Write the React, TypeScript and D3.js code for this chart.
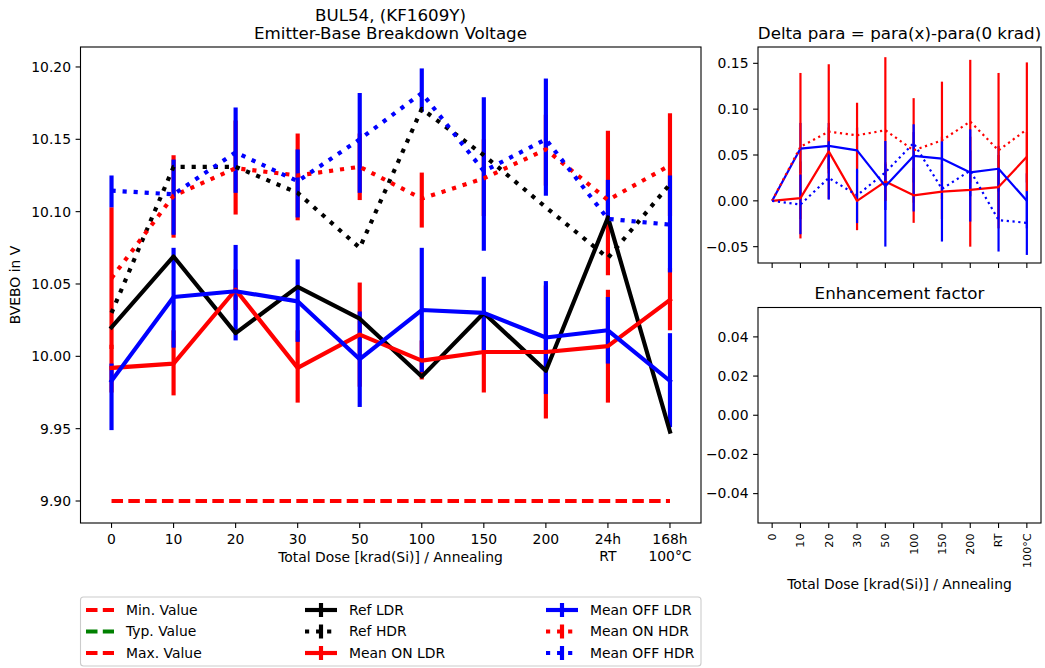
import React from 'react';
import * as d3 from 'd3';

// ---------- data ----------
const doseLabels = ['0', '10', '20', '30', '50', '100', '150', '200', '24h\nRT', '168h\n100°C'];
const doseShort = ['0', '10', '20', '30', '50', '100', '150', '200', 'RT', '100°C'];

const mainYTicks = [9.9, 9.95, 10.0, 10.05, 10.1, 10.15, 10.2];
const deltaYTicks = [-0.05, 0, 0.05, 0.1, 0.15];
const enhYTicks = [-0.04, -0.02, 0, 0.02, 0.04];

const minValue = [9.9, 9.9, 9.9, 9.9, 9.9, 9.9, 9.9, 9.9, 9.9, 9.9];

const refLdr = [10.02, 10.069, 10.016, 10.048, 10.026, 9.986, 10.03, 9.99, 10.096, 9.948];
const refHdr = [10.03, 10.131, 10.131, 10.113, 10.075, 10.171, 10.139, 10.103, 10.068, 10.119];

const onLdr = [9.992, 9.995, 10.046, 9.992, 10.015, 9.997, 10.003, 10.003, 10.007, 10.039];
const onLdrLo = [9.975, 9.973, 10.032, 9.968, 9.979, 9.984, 9.975, 9.957, 9.968, 10.018];
const onLdrHi = [10.008, 10.018, 10.06, 10.018, 10.051, 10.011, 10.031, 10.049, 10.046, 10.061];

const offLdr = [9.983, 10.041, 10.045, 10.038, 9.998, 10.032, 10.03, 10.013, 10.018, 9.983];
const offLdrLo = [9.949, 10.006, 10.011, 10.01, 9.965, 9.989, 10.004, 9.974, 9.995, 9.951];
const offLdrHi = [9.995, 10.075, 10.077, 10.067, 10.031, 10.075, 10.055, 10.052, 10.041, 10.016];

const onHdr = [10.054, 10.111, 10.13, 10.125, 10.131, 10.109, 10.123, 10.143, 10.108, 10.132];
const onHdrLo = [10.005, 10.082, 10.098, 10.094, 10.108, 10.089, 10.097, 10.118, 10.056, 10.097];
const onHdrHi = [10.103, 10.139, 10.163, 10.154, 10.154, 10.127, 10.15, 10.167, 10.156, 10.168];

const offHdr = [10.1145, 10.112, 10.141, 10.121, 10.15, 10.182, 10.128, 10.15, 10.095, 10.091];
const offHdrLo = [10.103, 10.084, 10.113, 10.096, 10.113, 10.169, 10.073, 10.111, 10.094, 10.058];
const offHdrHi = [10.125, 10.136, 10.172, 10.143, 10.182, 10.199, 10.179, 10.192, 10.122, 10.125];

// delta = para(x) - para(0 krad)
const dOnLdr = [0, 0.003, 0.054, 0.0, 0.021, 0.006, 0.01, 0.012, 0.015, 0.048];
const dOnLdrLo = [0, -0.041, 0.03, -0.032, 0.0, -0.024, -0.02, -0.05, -0.02, 0.02];
const dOnLdrHi = [0, 0.043, 0.08, 0.03, 0.042, 0.036, 0.04, 0.07, 0.05, 0.075];

const dOffLdr = [0, 0.057, 0.06, 0.055, 0.016, 0.049, 0.046, 0.031, 0.035, 0.0];
const dOffLdrLo = [0, 0.03, 0.035, 0.03, -0.01, 0.02, 0.02, 0.005, 0.01, -0.03];
const dOffLdrHi = [0, 0.085, 0.085, 0.08, 0.04, 0.075, 0.07, 0.055, 0.06, 0.03];

const dOnHdr = [0, 0.059, 0.0755, 0.0715, 0.077, 0.055, 0.066, 0.0865, 0.055, 0.078];
const dOnHdrLo = [0, -0.02, 0.002, 0.035, 0.0, -0.002, 0.002, 0.02, -0.03, 0.0104];
const dOnHdrHi = [0, 0.1395, 0.149, 0.107, 0.1567, 0.112, 0.13, 0.1538, 0.1395, 0.151];

const dOffHdr = [0, -0.004, 0.025, 0.006, 0.031, 0.063, 0.013, 0.033, -0.021, -0.024];
const dOffHdrLo = [0, -0.0364, 0.0013, -0.0243, -0.0499, -0.0116, -0.0444, -0.0226, -0.0553, -0.059];
const dOffHdrHi = [0, 0.0287, 0.065, 0.034, 0.0653, 0.0835, 0.065, 0.078, 0.036, 0.0104];

// ---------- styling ----------
const RED = '#ff0000';
const BLUE = '#0000ff';
const GREEN = '#008000';
const FONT = 'DejaVu Sans, Verdana, sans-serif';
const LW = 4.17;
const LW2 = 2.2;
const DOT_MAIN = '4.17,6.88';
const DOT_SMALL = '2.2,3.6';

const fmtMinus = (s: string) => s.replace('-', '\u2212');

export default function App() {
  const xMain = d3.scaleLinear().domain([-0.5, 9.5]).range([80.5, 701]);
  const yMain = d3.scaleLinear().domain([9.8848, 10.2138]).range([523, 47]);
  const xR = d3.scaleLinear().domain([-0.5, 9.5]).range([758, 1041]);
  const yDelta = d3.scaleLinear().domain([-0.0678, 0.1678]).range([263, 47]);
  const yEnh = d3.scaleLinear().domain([-0.055, 0.055]).range([523, 307.5]);

  const idx = d3.range(doseLabels.length);

  const mkLine = (xs: any, ys: any) =>
    d3.line<number>().x((_, i) => xs(i)).y((d) => ys(d));

  const mainSeries = [
    { data: refLdr, lo: null, hi: null, color: '#000', dotted: false },
    { data: refHdr, lo: null, hi: null, color: '#000', dotted: true },
    { data: onLdr, lo: onLdrLo, hi: onLdrHi, color: RED, dotted: false },
    { data: offLdr, lo: offLdrLo, hi: offLdrHi, color: BLUE, dotted: false },
    { data: onHdr, lo: onHdrLo, hi: onHdrHi, color: RED, dotted: true },
    { data: offHdr, lo: offHdrLo, hi: offHdrHi, color: BLUE, dotted: true },
  ];
  const deltaSeries = [
    { data: dOnLdr, lo: dOnLdrLo, hi: dOnLdrHi, color: RED, dotted: false },
    { data: dOffLdr, lo: dOffLdrLo, hi: dOffLdrHi, color: BLUE, dotted: false },
    { data: dOnHdr, lo: dOnHdrLo, hi: dOnHdrHi, color: RED, dotted: true },
    { data: dOffHdr, lo: dOffHdrLo, hi: dOffHdrHi, color: BLUE, dotted: true },
  ];

  const lineMain = mkLine(xMain, yMain);
  const lineDelta = mkLine(xR, yDelta);

  const frame = (l: number, t: number, r: number, b: number) => (
    <rect x={l} y={t} width={r - l} height={b - t} fill="none" stroke="#000" strokeWidth={1.1} />
  );

  const legendRows = [
    [
      { label: 'Min. Value', color: RED, kind: 'dashed' },
      { label: 'Typ. Value', color: GREEN, kind: 'dashed' },
      { label: 'Max. Value', color: RED, kind: 'dashed' },
    ],
    [
      { label: 'Ref LDR', color: '#000', kind: 'solid' },
      { label: 'Ref HDR', color: '#000', kind: 'dotted' },
      { label: 'Mean ON LDR', color: RED, kind: 'solid' },
    ],
    [
      { label: 'Mean OFF LDR', color: BLUE, kind: 'solid' },
      { label: 'Mean ON HDR', color: RED, kind: 'dotted' },
      { label: 'Mean OFF HDR', color: BLUE, kind: 'dotted' },
    ],
  ];
  const legendColX = [86, 305, 546];
  const legendRowY = [610, 631.5, 653];

  return (
    <svg
      width={1045}
      height={668}
      style={{ position: 'absolute', left: 0, top: 0, background: '#fff' }}
      fontFamily={FONT}
    >
      <rect x={0} y={0} width={1045} height={668} fill="#fff" />

      {/* ================= MAIN CHART ================= */}
      <text x={390.5} y={20.5} textAnchor="middle" fontSize={16.7}>BUL54, (KF1609Y)</text>
      <text x={390.5} y={38.7} textAnchor="middle" fontSize={16.7}>Emitter-Base Breakdown Voltage</text>

      {/* min value dashed line */}
      <path
        d={lineMain(minValue) || ''}
        fill="none"
        stroke={RED}
        strokeWidth={LW}
        strokeDasharray="11.5,5.3"
      />

      {/* error bars (drawn under lines) */}
      {mainSeries.map((s, si) =>
        s.lo
          ? idx.map((i) => (
              <line
                key={`eb${si}-${i}`}
                x1={xMain(i)}
                x2={xMain(i)}
                y1={yMain((s.lo as number[])[i])}
                y2={yMain((s.hi as number[])[i])}
                stroke={s.color}
                strokeWidth={LW}
              />
            ))
          : null
      )}

      {/* lines */}
      {mainSeries.map((s, si) => (
        <path
          key={`ln${si}`}
          d={lineMain(s.data) || ''}
          fill="none"
          stroke={s.color}
          strokeWidth={LW}
          strokeLinejoin="round"
          strokeLinecap={s.dotted ? 'butt' : 'square'}
          strokeDasharray={s.dotted ? DOT_MAIN : undefined}
        />
      ))}

      {frame(80.5, 47, 701, 523)}

      {/* y axis */}
      {mainYTicks.map((t) => (
        <g key={`my${t}`}>
          <line x1={75.6} x2={80.5} y1={yMain(t)} y2={yMain(t)} stroke="#000" strokeWidth={1.1} />
          <text x={71} y={yMain(t)} dy="0.35em" textAnchor="end" fontSize={13.9}>
            {t.toFixed(2)}
          </text>
        </g>
      ))}
      <text
        transform={`translate(20,285) rotate(-90)`}
        textAnchor="middle"
        fontSize={13.9}
      >
        BVEBO in V
      </text>

      {/* x axis */}
      {idx.map((i) => {
        const parts = doseLabels[i].split('\n');
        return (
          <g key={`mx${i}`}>
            <line x1={xMain(i)} x2={xMain(i)} y1={523} y2={527.9} stroke="#000" strokeWidth={1.1} />
            {parts.map((p, k) => (
              <text key={k} x={xMain(i)} y={544 + k * 17} textAnchor="middle" fontSize={13.9}>
                {p}
              </text>
            ))}
          </g>
        );
      })}
      <text x={390.5} y={562} textAnchor="middle" fontSize={13.9}>
        Total Dose [krad(Si)] / Annealing
      </text>

      {/* ================= DELTA CHART ================= */}
      <text x={899.5} y={38.7} textAnchor="middle" fontSize={16.7}>
        Delta para = para(x)-para(0 krad)
      </text>
      {deltaSeries.map((s, si) =>
        idx.map((i) => (
          <line
            key={`deb${si}-${i}`}
            x1={xR(i)}
            x2={xR(i)}
            y1={yDelta(s.lo[i])}
            y2={yDelta(s.hi[i])}
            stroke={s.color}
            strokeWidth={LW2}
          />
        ))
      )}
      {deltaSeries.map((s, si) => (
        <path
          key={`dln${si}`}
          d={lineDelta(s.data) || ''}
          fill="none"
          stroke={s.color}
          strokeWidth={LW2}
          strokeLinejoin="round"
          strokeDasharray={s.dotted ? DOT_SMALL : undefined}
        />
      ))}
      {frame(758, 47, 1041, 263)}
      {deltaYTicks.map((t) => (
        <g key={`dy${t}`}>
          <line x1={753.1} x2={758} y1={yDelta(t)} y2={yDelta(t)} stroke="#000" strokeWidth={1.1} />
          <text x={748.5} y={yDelta(t)} dy="0.35em" textAnchor="end" fontSize={13.9}>
            {fmtMinus(t.toFixed(2))}
          </text>
        </g>
      ))}
      {idx.map((i) => (
        <line key={`dx${i}`} x1={xR(i)} x2={xR(i)} y1={263} y2={267.9} stroke="#000" strokeWidth={1.1} />
      ))}

      {/* ================= ENHANCEMENT CHART ================= */}
      <text x={899.5} y={298.5} textAnchor="middle" fontSize={16.7}>
        Enhancement factor
      </text>
      {frame(758, 307.5, 1041, 523)}
      {enhYTicks.map((t) => (
        <g key={`ey${t}`}>
          <line x1={753.1} x2={758} y1={yEnh(t)} y2={yEnh(t)} stroke="#000" strokeWidth={1.1} />
          <text x={748.5} y={yEnh(t)} dy="0.35em" textAnchor="end" fontSize={13.9}>
            {fmtMinus(t.toFixed(2))}
          </text>
        </g>
      ))}
      {idx.map((i) => (
        <g key={`ex${i}`}>
          <line x1={xR(i)} x2={xR(i)} y1={523} y2={527.9} stroke="#000" strokeWidth={1.1} />
          <text
            transform={`translate(${xR(i)},533.5) rotate(-90)`}
            textAnchor="end"
            dy="0.35em"
            fontSize={11.1}
          >
            {doseShort[i]}
          </text>
        </g>
      ))}
      <text x={899.5} y={589} textAnchor="middle" fontSize={13.9}>
        Total Dose [krad(Si)] / Annealing
      </text>

      {/* ================= LEGEND ================= */}
      <rect x={80.5} y={597} width={620.5} height={69} rx={3} fill="#fff" fillOpacity={0.8} stroke="#cccccc" strokeWidth={1.1} />
      {legendRows.map((col, ci) =>
        col.map((e, ri) => {
          const x0 = legendColX[ci];
          const y0 = legendRowY[ri];
          const w = ci === 0 ? 28 : 32;
          return (
            <g key={`lg${ci}-${ri}`}>
              {e.kind === 'dashed' ? (
                <line x1={x0} x2={x0 + w} y1={y0} y2={y0} stroke={e.color} strokeWidth={LW} strokeDasharray="11.5,5.3" />
              ) : (
                <>
                  <line
                    x1={x0}
                    x2={x0 + w}
                    y1={y0}
                    y2={y0}
                    stroke={e.color}
                    strokeWidth={LW}
                    strokeDasharray={e.kind === 'dotted' ? DOT_MAIN : undefined}
                  />
                  <line x1={x0 + w / 2} x2={x0 + w / 2} y1={y0 - 7} y2={y0 + 7} stroke={e.color} strokeWidth={LW} />
                </>
              )}
              <text x={x0 + w + 12} y={y0} dy="0.35em" fontSize={13.9}>
                {e.label}
              </text>
            </g>
          );
        })
      )}
    </svg>
  );
}
